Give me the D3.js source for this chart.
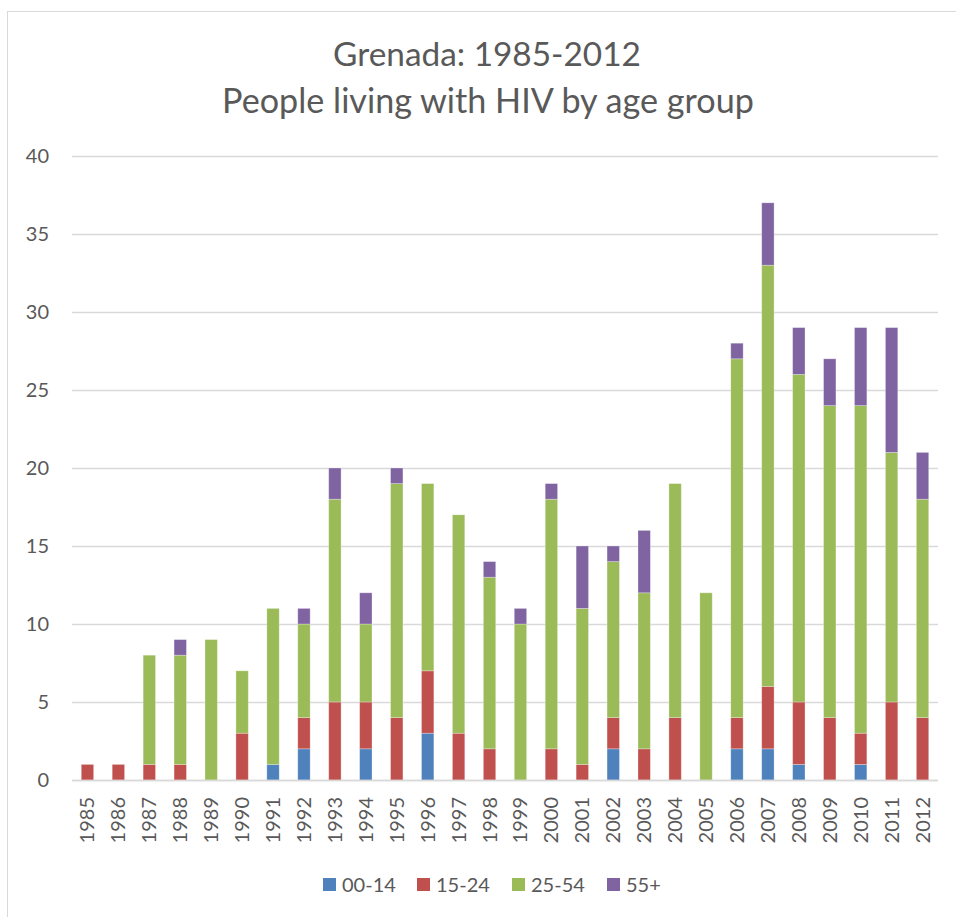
<!DOCTYPE html>
<html>
<head>
<meta charset="utf-8">
<script src="https://cdn.jsdelivr.net/npm/d3@7"></script>
<style>
  html, body { margin: 0; padding: 0; background: #fff; }
  svg { display: block; }
  text { font-family: Lato, "Open Sans", sans-serif; fill: #595959; }
</style>
</head>
<body>
<script>
const years = ["1985","1986","1987","1988","1989","1990","1991","1992","1993","1994","1995","1996","1997","1998","1999","2000","2001","2002","2003","2004","2005","2006","2007","2008","2009","2010","2011","2012"];
const age00_14 = [0,0,0,0,0,0,1,2,0,2,0,3,0,0,0,0,0,2,0,0,0,2,2,1,0,1,0,0];
const age15_24 = [1,1,1,1,0,3,0,2,5,3,4,4,3,2,0,2,1,2,2,4,0,2,4,4,4,2,5,4];
const age25_54 = [0,0,7,7,9,4,10,6,13,5,15,12,14,11,10,16,10,10,10,15,12,23,27,21,20,21,16,14];
const age55p   = [0,0,0,1,0,0,0,1,2,2,1,0,0,1,1,1,4,1,4,0,0,1,4,3,3,5,8,3];
const seriesNames = ["00-14","15-24","25-54","55+"];
const seriesColors = ["#4F81BD","#C0504D","#9BBB59","#8064A2"];
const yTicks = [0,5,10,15,20,25,30,35,40];
const titleLines = ["Grenada: 1985-2012","People living with HIV by age group"];

const W = 956, H = 917;
const margin = {left: 72, right: 18, top: 156, bottom: 137};
const svg = d3.select("body").append("svg").attr("width", W).attr("height", H);
const FONT = "Lato, 'Open Sans', sans-serif";

// chart border
svg.append("rect").attr("x", 7.5).attr("y", 11.5).attr("width", W + 10).attr("height", H + 10)
  .attr("fill", "none").attr("stroke", "#D9D9D9").attr("stroke-width", 1);

const x = d3.scaleBand().domain(years).range([margin.left, W - margin.right]).paddingInner(0.6).paddingOuter(0.3);
const y = d3.scaleLinear().domain([0, 40]).range([H - margin.bottom, margin.top]);

// gridlines
svg.append("g").selectAll("line").data(yTicks).join("line")
  .attr("x1", margin.left).attr("x2", W - margin.right)
  .attr("y1", d => Math.round(y(d)) + 0.5).attr("y2", d => Math.round(y(d)) + 0.5)
  .attr("stroke", "#D9D9D9").attr("stroke-width", 1.5);

// y axis labels
const yAxis = d3.axisLeft(y).tickValues(yTicks).tickSize(0).tickPadding(0);
const yg = svg.append("g").attr("transform", `translate(${49},0)`).call(yAxis);
yg.select(".domain").remove();
yg.selectAll("text").style("font-size", "20px").attr("fill", "#595959").style("font-family", FONT);

// stacked data
const table = years.map((yr, i) => ({year: yr, "00-14": age00_14[i], "15-24": age15_24[i], "25-54": age25_54[i], "55+": age55p[i]}));
const stack = d3.stack().keys(seriesNames)(table);

svg.append("g").selectAll("g").data(stack).join("g")
  .attr("fill", (d, i) => seriesColors[i])
  .selectAll("rect").data(d => d.filter(s => s[1] - s[0] > 0)).join("rect")
  .attr("x", d => x(d.data.year))
  .attr("width", x.bandwidth())
  .attr("y", d => y(d[1]))
  .attr("height", d => y(d[0]) - y(d[1]))
  .attr("stroke", "#ffffff").attr("stroke-opacity", 0.35).attr("stroke-width", 0.8);

// x axis line (over bars)
svg.append("line").attr("x1", margin.left).attr("x2", W - margin.right)
  .attr("y1", Math.round(y(0)) + 0.5).attr("y2", Math.round(y(0)) + 0.5)
  .attr("stroke", "#D9D9D9").attr("stroke-width", 1.5);

// x labels rotated
const xAxis = d3.axisBottom(x).tickSize(0).tickPadding(0);
const xg = svg.append("g").attr("transform", `translate(0,${y(0)})`).call(xAxis);
xg.select(".domain").remove();
xg.selectAll("text")
  .style("font-size", "20px").style("font-family", FONT).attr("fill", "#595959")
  .attr("text-anchor", "end")
  .attr("transform", "rotate(-90)")
  .attr("x", -17).attr("y", 0).attr("dy", "0.35em");

// title
const tg = svg.append("g");
const t1 = tg.append("text").attr("x", 487).attr("y", 66).attr("text-anchor", "middle").style("font-size", "30px").text(titleLines[0]);
const t2 = tg.append("text").attr("x", 488).attr("y", 113).attr("text-anchor", "middle").style("font-size", "30px").text(titleLines[1]);
[[t1, 308], [t2, 532]].forEach(([t, target]) => {
  const w = t.node().getComputedTextLength();
  t.style("font-size", (30 * target / w).toFixed(2) + "px");
});

// legend
const legendX = [323, 417, 512, 607];
const lg = svg.append("g").selectAll("g").data(seriesNames).join("g")
  .attr("transform", (d, i) => `translate(${legendX[i]},${878})`);
lg.append("rect").attr("width", 13).attr("height", 13).attr("fill", (d, i) => seriesColors[i]);
lg.append("text").attr("x", 19).attr("y", 7).attr("dy", "0.36em").style("font-size", "20px").text(d => d);
</script>
</body>
</html>
